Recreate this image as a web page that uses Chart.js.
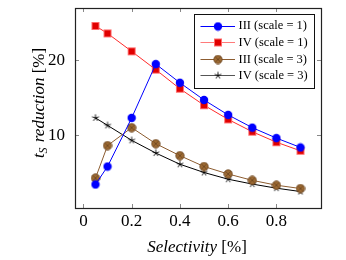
<!DOCTYPE html>
<html><head><meta charset="utf-8">
<script src="https://cdn.jsdelivr.net/npm/chart.js@4"></script>
<style>html,body{margin:0;padding:0;background:#fff}</style>
</head><body>
<canvas id="c" width="346" height="260" style="width:346px;height:260px;display:block"></canvas>
<script>
// ---- data ----
const selectivity = [0.05, 0.1, 0.2, 0.3, 0.4, 0.5, 0.6, 0.7, 0.8, 0.9];
const iiiScale1 = [3.4, 5.8, 12.3, 19.5, 17.0, 14.7, 12.7, 11.0, 9.6, 8.35];
const ivScale1  = [24.6, 23.6, 21.2, 18.75, 16.2, 14.0, 12.1, 10.45, 9.05, 7.9];
const iiiScale3 = [4.25, 8.6, 11.0, 8.85, 7.25, 5.8, 4.8, 3.95, 3.3, 2.85];
const ivScale3  = [12.3, 11.3, 9.3, 7.6, 6.1, 5.0, 4.1, 3.45, 2.9, 2.45];
const seriesLabels = ['III (scale = 1)', 'IV (scale = 1)', 'III (scale = 3)', 'IV (scale = 3)'];
const xTicks = [0, 0.2, 0.4, 0.6, 0.8];
const yTicks = [10, 20];
const xTitle = 'Selectivity';
const yTitle = 'reduction';

const SERIF = '"Liberation Serif", "DejaVu Serif", serif';
const TF = 17;

function mk(size, draw) {
  const c = document.createElement('canvas');
  c.width = size; c.height = size;
  draw(c.getContext('2d'), size / 2);
  return c;
}
const mBlue = mk(10, (g, c) => { g.fillStyle = '#0000ff'; g.beginPath(); g.arc(c, c, 4.2, 0, Math.PI * 2); g.fill(); });
const mRed = mk(10, (g, c) => { g.fillStyle = '#e00000'; g.fillRect(1, 1, 8, 8); g.strokeStyle = '#ff6a6a'; g.lineWidth = 1; g.strokeRect(1.5, 1.5, 7, 7); });
const mBrown = mk(10, (g, c) => {
  g.fillStyle = '#9c6a33'; g.beginPath(); g.arc(c, c, 4.2, 0, Math.PI * 2); g.fill();
  g.strokeStyle = '#6b4420'; g.lineWidth = 0.8; g.stroke();
  const d = 2.8; g.beginPath(); g.moveTo(c - d, c - d); g.lineTo(c + d, c + d); g.moveTo(c + d, c - d); g.lineTo(c - d, c + d); g.stroke();
});
const mStar = mk(10, (g, c) => {
  g.strokeStyle = '#000'; g.lineWidth = 0.9; g.beginPath();
  for (let i = 0; i < 5; i++) { const a = -Math.PI / 2 + i * 2 * Math.PI / 5; g.moveTo(c, c); g.lineTo(c + 3.6 * Math.cos(a), c + 3.6 * Math.sin(a)); }
  g.stroke();
});

const pts = ys => selectivity.map((x, i) => ({ x, y: ys[i] }));
const styles = [
  { color: '#0000ff', legendColor: '#0000ff', marker: mBlue },
  { color: '#ff2a2a', legendColor: '#ff7a7a', marker: mRed },
  { color: '#8c5c30', legendColor: '#8c5c30', marker: mBrown },
  { color: '#000000', legendColor: '#555555', marker: mStar }
];
const series = [iiiScale1, ivScale1, iiiScale3, ivScale3];

const datasets = series.map((s, i) => ({
  label: seriesLabels[i],
  data: pts(s),
  borderColor: styles[i].color,
  backgroundColor: styles[i].color,
  borderWidth: 1,
  pointStyle: styles[i].marker,
  pointRadius: 4,
  tension: 0,
  fill: false
}));

const deco = {
  id: 'deco',
  afterDraw(chart) {
    const ctx = chart.ctx, a = chart.chartArea;
    const xs = chart.scales.x, ys = chart.scales.y;
    ctx.save();
    // ticks (inward, mirrored)
    ctx.strokeStyle = '#888'; ctx.lineWidth = 1;
    ctx.beginPath();
    xTicks.forEach(v => { const px = Math.round(xs.getPixelForValue(v)) + 0.5; ctx.moveTo(px, a.bottom); ctx.lineTo(px, a.bottom - 4); ctx.moveTo(px, a.top); ctx.lineTo(px, a.top + 4); });
    yTicks.forEach(v => { const py = Math.round(ys.getPixelForValue(v)) + 0.5; ctx.moveTo(a.left, py); ctx.lineTo(a.left + 4, py); ctx.moveTo(a.right, py); ctx.lineTo(a.right - 4, py); });
    ctx.stroke();
    // frame
    ctx.strokeStyle = '#222'; ctx.lineWidth = 1.2;
    ctx.strokeRect(Math.round(a.left) + 0.5, Math.round(a.top) + 0.5, Math.round(a.right - a.left), Math.round(a.bottom - a.top));

    // x title
    ctx.fillStyle = '#000'; ctx.textBaseline = 'alphabetic';
    ctx.font = 'italic ' + TF + 'px ' + SERIF;
    const w1 = ctx.measureText(xTitle + ' ').width;
    ctx.font = TF + 'px ' + SERIF;
    const w2 = ctx.measureText('[%]').width;
    let x0 = 197 - (w1 + w2) / 2;
    ctx.font = 'italic ' + TF + 'px ' + SERIF; ctx.fillText(xTitle + ' ', x0, 252);
    ctx.font = TF + 'px ' + SERIF; ctx.fillText('[%]', x0 + w1, 252);

    // y title (rotated)
    ctx.save();
    ctx.translate(44, 103);
    ctx.rotate(-Math.PI / 2);
    ctx.font = 'italic ' + TF + 'px ' + SERIF; const wt = ctx.measureText('t').width;
    ctx.font = 'italic 12px ' + SERIF; const ws = ctx.measureText('S').width + 1;
    ctx.font = 'italic ' + TF + 'px ' + SERIF; const wr = ctx.measureText(' ' + yTitle + ' ').width;
    ctx.font = TF + 'px ' + SERIF; const wp = ctx.measureText('[%]').width;
    let tx = -(wt + ws + wr + wp) / 2;
    ctx.font = 'italic ' + TF + 'px ' + SERIF; ctx.fillText('t', tx, 0); tx += wt;
    ctx.font = 'italic 12px ' + SERIF; ctx.fillText('S', tx, 3); tx += ws;
    ctx.font = 'italic ' + TF + 'px ' + SERIF; ctx.fillText(' ' + yTitle + ' ', tx, 0); tx += wr;
    ctx.font = TF + 'px ' + SERIF; ctx.fillText('[%]', tx, 0);
    ctx.restore();

    // legend
    const L = { x: 194, y: 14, w: 120, h: 74 };
    ctx.fillStyle = '#fff'; ctx.fillRect(L.x, L.y, L.w, L.h);
    ctx.strokeStyle = '#111'; ctx.lineWidth = 1;
    ctx.strokeRect(L.x + 0.5, L.y + 0.5, L.w, L.h);
    const rows = [25.7, 42.3, 59, 75.3];
    ctx.font = '12.5px ' + SERIF; ctx.textBaseline = 'middle';
    seriesLabels.forEach((lab, i) => {
      const y = rows[i];
      ctx.strokeStyle = styles[i].legendColor; ctx.lineWidth = 1;
      ctx.beginPath(); ctx.moveTo(200.5, Math.round(y) + 0.5); ctx.lineTo(235, Math.round(y) + 0.5); ctx.stroke();
      const m = styles[i].marker;
      ctx.drawImage(m, 218 - m.width / 2, Math.round(y) + 0.5 - m.height / 2);
      ctx.fillStyle = '#000';
      ctx.fillText(lab, 238.5, y + 0.5);
    });
    ctx.restore();
  }
};

const noPad = s => { s.paddingTop = 0; s.paddingBottom = 0; s.paddingLeft = 0; s.paddingRight = 0; };

new Chart(document.getElementById('c'), {
  type: 'line',
  data: { datasets },
  options: {
    responsive: false,
    animation: false,
    devicePixelRatio: 1,
    layout: { padding: { left: 0, right: 25, top: 8, bottom: 0 } },
    plugins: { legend: { display: false }, tooltip: { enabled: false } },
    scales: {
      x: {
        type: 'linear', min: -0.035, max: 0.985,
        afterBuildTicks: s => { s.ticks = xTicks.map(v => ({ value: v })); },
        afterFit: s => { s.height = 52; noPad(s); },
        grid: { display: false, drawTicks: false },
        border: { display: false },
        ticks: { color: '#000', font: { family: SERIF, size: TF }, padding: 3, maxRotation: 0, autoSkip: false, callback: v => String(v) }
      },
      y: {
        type: 'linear', min: 0.25, max: 27,
        afterBuildTicks: s => { s.ticks = yTicks.map(v => ({ value: v })); },
        afterFit: s => { s.width = 75; noPad(s); },
        grid: { display: false, drawTicks: false },
        border: { display: false },
        ticks: { color: '#000', font: { family: SERIF, size: TF }, padding: 10, autoSkip: false, callback: v => String(v) }
      }
    }
  },
  plugins: [deco]
});
</script>
</body></html>
